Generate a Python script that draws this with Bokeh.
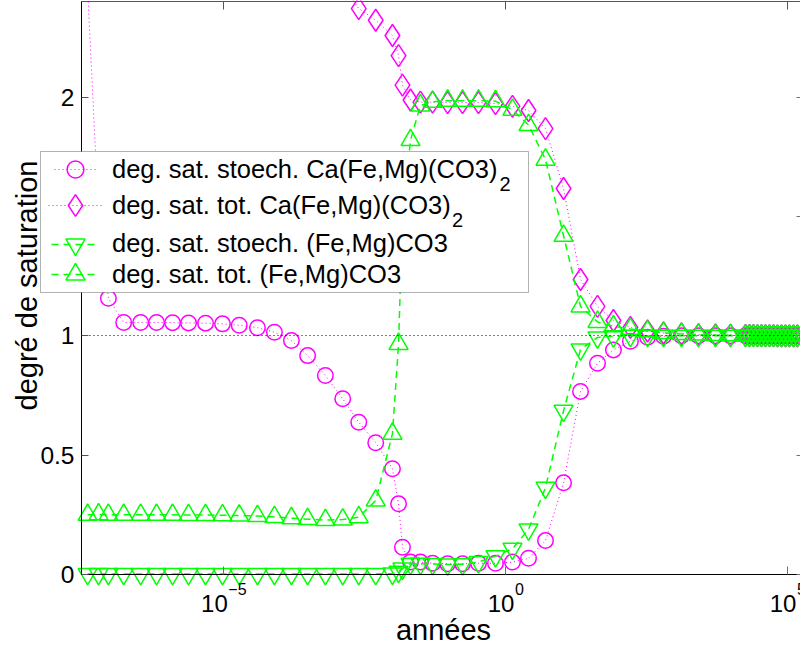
from math import pi
from bokeh.plotting import figure
from bokeh.models import (Range1d, LogAxis, LinearAxis, FixedTicker, Label, Legend, LegendItem,
                          BoxAnnotation, ColumnDataSource, CustomJSTickFormatter)
from bokeh.embed import file_html
from bokeh.resources import INLINE

# ---------------- data ----------------
annees = [3.9e-8, 6.1e-8, 9.1e-8, 1.7e-7, 3.4e-7, 6.5e-7, 1.25e-6, 2.4e-6, 4.8e-6, 9.6e-6,
          1.9e-5, 4.0e-5, 8.0e-5, 1.6e-4, 3.1e-4, 6.4e-4, 1.3e-3, 2.5e-3, 5.0e-3, 9.9e-3,
          1.27e-2, 1.49e-2, 2.07e-2, 3.1e-2, 5.1e-2, 9.4e-2, 0.173, 0.332, 0.665, 1.33,
          2.56, 5.12, 10.7, 21.4, 42.8, 82.0, 164.0, 330.0, 633.0, 1320.0, 2640.0, 5290.0, 9750.0,
          1.8e4, 2.12e4, 2.49e4, 2.94e4, 3.46e4, 4.07e4, 4.8e4, 5.65e4, 6.65e4, 7.83e4,
          9.22e4, 1.08e5, 1.28e5, 1.5e5]

stoech_dolomite = [2.45, 1.50, 1.157, 1.056, 1.056, 1.056, 1.055, 1.054, 1.053, 1.050,
                   1.044, 1.034, 1.015, 0.980, 0.917, 0.834, 0.736, 0.638, 0.552, 0.443,
                   0.296, 0.114, 0.052, 0.052, 0.047, 0.045, 0.045, 0.047, 0.047, 0.052,
                   0.068, 0.142, 0.384, 0.767, 0.885, 0.941, 0.977, 0.994, 0.998, 1.0,
                   1.0, 1.0, 1.0,
                   1.0, 1.0, 1.0, 1.0, 1.0, 1.0, 1.0, 1.0, 1.0, 1.0, 1.0, 1.0, 1.0, 1.0]

tot_dolomite = [2.95, 2.93, 2.92, 2.91, 2.90, 2.89, 2.88, 2.86, 2.84, 2.81,
                2.77, 2.72, 2.66, 2.60, 2.55, 2.51, 2.47, 2.371, 2.322, 2.258,
                2.174, 2.050, 1.988, 1.979, 1.979, 1.977, 1.977, 1.977, 1.973, 1.961,
                1.944, 1.868, 1.617, 1.236, 1.123, 1.064, 1.035, 1.020, 1.012, 1.008,
                1.005, 1.004, 1.003,
                1.002, 1.002, 1.002, 1.001, 1.001, 1.001, 1.001, 1.001, 1.0, 1.0, 1.0, 1.0, 1.0, 1.0]

stoech_siderite = [0.002, 0.002, 0.002, 0.002, 0.002, 0.002, 0.002, 0.002, 0.002, 0.002,
                   0.002, 0.002, 0.002, 0.002, 0.002, 0.002, 0.002, 0.002, 0.002, 0.004,
                   0.012, 0.025, 0.045, 0.045, 0.044, 0.042, 0.043, 0.052, 0.077, 0.108,
                   0.189, 0.364, 0.686, 0.943, 0.993, 0.998, 1.0, 1.0, 1.0, 1.0,
                   1.0, 1.0, 1.0,
                   1.0, 1.0, 1.0, 1.0, 1.0, 1.0, 1.0, 1.0, 1.0, 1.0, 1.0, 1.0, 1.0, 1.0]

tot_siderite = [0.250, 0.252, 0.250, 0.250, 0.250, 0.250, 0.250, 0.249, 0.249, 0.248,
                0.247, 0.245, 0.241, 0.236, 0.232, 0.228, 0.230, 0.240, 0.310, 0.590,
                0.966, 1.50, 1.82, 1.965, 1.980, 1.985, 1.985, 1.985, 1.983, 1.947,
                1.883, 1.738, 1.419, 1.123, 1.058, 1.040, 1.029, 1.019, 1.012, 1.008,
                1.005, 1.003, 1.002,
                1.001, 1.001, 1.001, 1.001, 1.001, 1.0, 1.0, 1.0, 1.0, 1.0, 1.0, 1.0, 1.0, 1.0]

labels = ["deg. sat. stoech. Ca(Fe,Mg)(CO3)",
          "deg. sat. tot. Ca(Fe,Mg)(CO3)",
          "deg. sat. stoech. (Fe,Mg)CO3",
          "deg. sat. tot. (Fe,Mg)CO3"]
x_ticks = [1e-5, 1.0, 1e5]
x_tick_exponents = ["\u22125", "0", "5"]
y_ticks = [0, 0.5, 1, 1.5, 2]

# ---------------- layout / styling ----------------
FONT = "Liberation Sans"
MAGENTA = "#ff00ff"
GREEN = "#00ff00"
W, H = 800, 647
X_LEFT, X_RIGHT = 3.035e-8, 1.70e5      # axis box in data units
Y_TOP = 2.4005
K = 0.35   # correction of the alphabetic baseline of Label (fraction of font size)

src = ColumnDataSource(dict(t=annees, a=stoech_dolomite, b=tot_dolomite,
                            c=stoech_siderite, d=tot_siderite))

# the frame spans the whole canvas; axes are drawn at fixed locations inside it
p = figure(width=W, height=H, x_axis_type="log",
           x_range=Range1d(1.112e-9, 1.700e5), y_range=Range1d(-0.3058, 2.4047),
           output_backend="svg", toolbar_location=None,
           min_border_left=0, min_border_right=0, min_border_top=0, min_border_bottom=0)
p.grid.visible = False
p.outline_line_color = None
p.background_fill_color = "white"
p.border_fill_color = "white"

empty = CustomJSTickFormatter(code="return ''")

# bottom axis at y = 0
xa = p.xaxis[0]
xa.ticker = FixedTicker(ticks=x_ticks, minor_ticks=[])
xa.formatter = empty
xa.fixed_location = 0
xa.bounds = (X_LEFT, X_RIGHT)
xa.major_tick_in = 8
xa.major_tick_out = 0
xa.minor_tick_in = 0
xa.minor_tick_out = 0
xa.major_label_text_font_size = "0px"
xa.major_label_standoff = 0
xa.axis_line_color = "black"
xa.major_tick_line_color = "#707070"

# left axis
ya = p.yaxis[0]
ya.ticker = FixedTicker(ticks=y_ticks, minor_ticks=[])
ya.fixed_location = X_LEFT
ya.bounds = (0, Y_TOP)
ya.major_tick_in = 7
ya.major_tick_out = 0
ya.minor_tick_in = 0
ya.minor_tick_out = 0
ya.major_label_standoff = 7
ya.major_label_text_font = FONT
ya.major_label_text_font_size = "24.5px"
ya.major_label_text_color = "black"
ya.axis_line_color = "black"
ya.major_tick_line_color = "#505050"

# top edge of the box with inward ticks
top = LogAxis(ticker=FixedTicker(ticks=x_ticks, minor_ticks=[]), formatter=empty,
              fixed_location=Y_TOP, bounds=(X_LEFT, X_RIGHT),
              major_tick_in=8, major_tick_out=0, minor_tick_in=0, minor_tick_out=0,
              major_label_text_font_size="0px", major_label_standoff=0,
              axis_line_color="#555555", major_tick_line_color="#555555")
p.add_layout(top, "above")

# right edge ticks
right = LinearAxis(ticker=FixedTicker(ticks=y_ticks, minor_ticks=[]), formatter=empty,
                   fixed_location=X_RIGHT, bounds=(0, Y_TOP),
                   major_tick_in=4, major_tick_out=0, minor_tick_in=0, minor_tick_out=0,
                   major_label_text_font_size="0px", major_label_standoff=0,
                   axis_line_color=None, major_tick_line_color="#707070")
p.add_layout(right, "right")

# dotted reference line at 1, limited to the axis box
ref = LogAxis(ticker=FixedTicker(ticks=[], minor_ticks=[]), formatter=empty,
              fixed_location=1, bounds=(X_LEFT, X_RIGHT),
              major_tick_in=0, major_tick_out=0, minor_tick_in=0, minor_tick_out=0,
              major_label_text_font_size="0px", major_label_standoff=0,
              axis_line_color="black", axis_line_dash="1 3", axis_line_width=1)
p.add_layout(ref, "below")

# series
la = p.line("t", "a", source=src, line_color=MAGENTA, line_dash="1 3", line_width=1)
sa = p.scatter("t", "a", source=src, marker="circle", size=15.5, line_color=MAGENTA,
               fill_color=None, line_width=1.5)
lb = p.line("t", "b", source=src, line_color=MAGENTA, line_dash="1 3", line_width=1)
sb = p.scatter("t", "b", source=src, marker="diamond", size=22, line_color=MAGENTA,
               fill_color=None, line_width=1.5)
lc = p.line("t", "c", source=src, line_color=GREEN, line_dash="7 5", line_width=1.5)
sc = p.scatter("t", "c", source=src, marker="inverted_triangle", size=19, line_color=GREEN,
               fill_color=None, line_width=1.5)
ld = p.line("t", "d", source=src, line_color=GREEN, line_dash="7 5", line_width=1.5)
sd = p.scatter("t", "d", source=src, marker="triangle", size=19, line_color=GREEN,
               fill_color=None, line_width=1.5)

# legend box (screen units, y measured upwards from the bottom of the canvas)
p.add_layout(BoxAnnotation(left=40, right=528, top=H - 151, bottom=H - 292,
                           left_units="screen", right_units="screen",
                           top_units="screen", bottom_units="screen",
                           fill_color="white", fill_alpha=1, line_color="black", line_width=1))

row_centers = [169, 205, 243.5, 274]
glyph_sizes = [42, 54, 48, 48]
pairs = [(la, sa), (lb, sb), (lc, sc), (ld, sd)]
MARK_X, TEXT_X = 75, 112
for lab, (lr, sr), c, g in zip(labels, pairs, row_centers, glyph_sizes):
    p.add_layout(Legend(items=[LegendItem(label=lab, renderers=[lr, sr])],
                        location=(MARK_X - g / 2, H - c - g / 2), padding=0, spacing=0, margin=0,
                        glyph_width=g, glyph_height=g, label_standoff=TEXT_X - MARK_X - g // 2,
                        label_height=20,
                        label_text_font=FONT, label_text_font_size="25.5px",
                        label_text_color="black", label_text_baseline="middle",
                        background_fill_alpha=0, border_line_color=None), "center")

# subscripts of (CO3)2
for sx, sy in [(499, H - 190), (451.5, H - 226.5)]:
    p.add_layout(Label(x=sx, y=sy + K * 20, x_units="screen", y_units="screen", text="2",
                       text_font=FONT, text_font_size="20px", text_color="black",
                       text_baseline="alphabetic"))

# x tick labels: 10 with superscript exponent
offsets = [4.3, 8.9, 8.9]
for t, e, o in zip(x_ticks, x_tick_exponents, offsets):
    p.add_layout(Label(x=t, y=0, text="10", text_align="right", x_offset=o,
                       y_offset=-37.7 + K * 24,
                       text_font=FONT, text_font_size="24px", text_color="black",
                       text_baseline="alphabetic"))
    p.add_layout(Label(x=t, y=0, text=e, text_align="left", x_offset=o + 0.5,
                       y_offset=-20 + K * 16,
                       text_font=FONT, text_font_size="16px", text_color="black",
                       text_baseline="alphabetic"))

# axis titles
p.add_layout(Label(x=443, y=H - 640 + K * 29, x_units="screen", y_units="screen",
                   text="ann\u00e9es",
                   text_align="center", text_baseline="alphabetic", text_color="black",
                   text_font=FONT, text_font_size="29px"))
p.add_layout(Label(x=36.3 - K * 29, y=H - 285, x_units="screen", y_units="screen",
                   text="degr\u00e9 de saturation",
                   angle=pi / 2, text_align="center", text_baseline="alphabetic",
                   text_color="black", text_font=FONT, text_font_size="29px"))

open("out.html", "w").write(file_html(p, INLINE))
